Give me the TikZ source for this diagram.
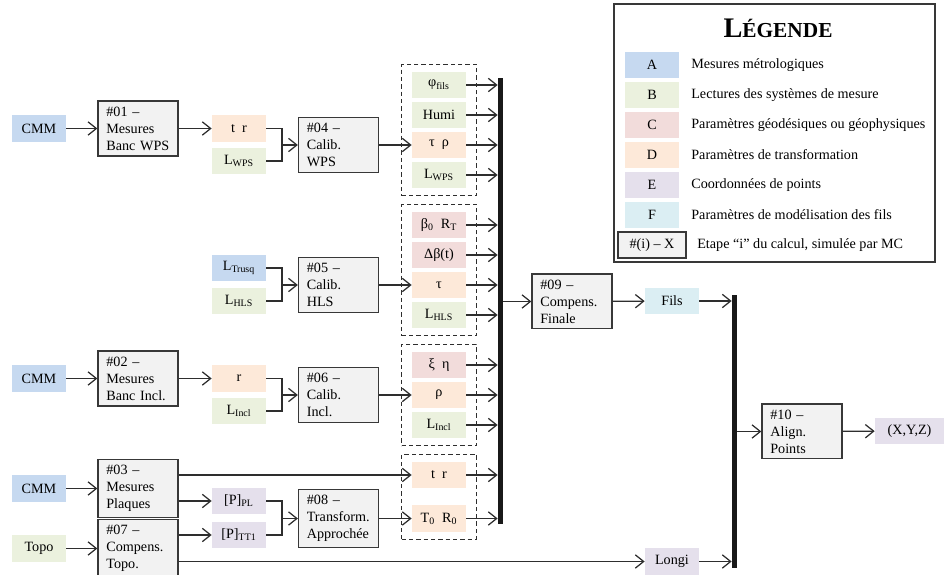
\documentclass[tikz,border=0pt]{standalone}
\usepackage{fontspec}
\setmainfont{Liberation Serif}
\usetikzlibrary{arrows.meta,fit}
\definecolor{colA}{HTML}{C6D9F0}
\definecolor{colB}{HTML}{EBF1DE}
\definecolor{colC}{HTML}{F2DCDB}
\definecolor{colD}{HTML}{FDE9D9}
\definecolor{colE}{HTML}{E5E0EC}
\definecolor{colF}{HTML}{DBEEF3}
\definecolor{edge}{HTML}{2E2E2E}
\newcommand\dgfont{\fontsize{8.5}{10.2}\selectfont}

\begin{document}
\begin{tikzpicture}[
    x=0.6pt, y=-0.6pt,
    proc/.style={draw=black!78, fill=black!5, line width=0.8pt, minimum width=48pt, minimum height=31.8pt, text width=38pt, inner xsep=5pt, align=left, font=\dgfont},
    keybox/.style={draw=black!78, fill=black!5, line width=0.8pt, minimum width=40.8pt, minimum height=15.6pt, inner sep=0pt, font=\dgfont},
    var/.style={minimum width=32.4pt, minimum height=16pt, inner sep=0pt, font=\dgfont},
    grp/.style={draw=edge, dash pattern=on 2.6pt off 1.8pt, line width=0.7pt, inner xsep=6pt, inner ysep=4.2pt},
    bus/.style={fill=black!90, inner sep=0pt, minimum width=3pt},
    arr/.style={-{Straight Barb[length=5pt,width=8pt]}, line width=0.75pt, draw=edge},
    lnk/.style={line width=0.75pt, draw=edge},
    legtxt/.style={anchor=west, font=\dgfont, inner sep=0pt}
]
    \useasboundingbox (0,0) rectangle (944,575);

    \node[var, fill=colA] (cmm1) at (39,128.5) {CMM};
    \node[proc] (mes01) at (138,128.5) {\#01 –\\Mesures\\Banc WPS};
    \node[var, fill=colD] (tr1) at (239,128.5) {t\enspace r};
    \node[var, fill=colB] (lwps1) at (239,161) {L\textsubscript{WPS}};
    \node[proc] (cal04) at (338.5,145) {\#04 –\\Calib.\\WPS};
    \coordinate (j04) at (282,145);
    \node[var, fill=colB] (phi) at (439,85) {φ\textsubscript{fils}};
    \node[var, fill=colB] (humi) at (439,115) {Humi};
    \node[var, fill=colD] (taurho) at (439,145) {τ\enspace ρ};
    \node[var, fill=colB] (lwps2) at (439,175) {L\textsubscript{WPS}};
    \node[grp, fit=(phi)(lwps2)] (grp1) {};

    \node[var, fill=colA] (ltrusq) at (239,268) {L\textsubscript{Trusq}};
    \node[var, fill=colB] (lhls1) at (239,301) {L\textsubscript{HLS}};
    \node[proc] (cal05) at (338.5,285) {\#05 –\\Calib.\\HLS};
    \coordinate (j05) at (282,285);
    \node[var, fill=colC] (beta) at (439,225) {β\textsubscript{0}\enspace R\textsubscript{T}};
    \node[var, fill=colC] (dbeta) at (439,255) {Δβ(t)};
    \node[var, fill=colD] (tau) at (439,285) {τ};
    \node[var, fill=colB] (lhls2) at (439,315) {L\textsubscript{HLS}};
    \node[grp, fit=(beta)(lhls2)] (grp2) {};

    \node[var, fill=colA] (cmm2) at (39,378.5) {CMM};
    \node[proc] (mes02) at (138,378.5) {\#02 –\\Mesures\\Banc Incl.};
    \node[var, fill=colD] (r1) at (239,378.5) {r};
    \node[var, fill=colB] (lincl1) at (239,411) {L\textsubscript{Incl}};
    \node[proc] (cal06) at (338.5,395) {\#06 –\\Calib.\\Incl.};
    \coordinate (j06) at (282,395);
    \node[var, fill=colC] (xieta) at (439,365) {ξ\enspace η};
    \node[var, fill=colD] (rho) at (439,395) {ρ};
    \node[var, fill=colB] (lincl2) at (439,425) {L\textsubscript{Incl}};
    \node[grp, fit=(xieta)(lincl2)] (grp3) {};

    \node[var, fill=colA] (cmm3) at (39,488.5) {CMM};
    \node[proc] (mes03) at (138,488.5) {\#03 –\\Mesures\\Plaques};
    \node[var, fill=colB] (topo) at (39,548.5) {Topo};
    \node[proc] (cmp07) at (138,548.5) {\#07 –\\Compens.\\Topo.};
    \node[var, fill=colE] (ppl) at (239,501) {[P]\textsubscript{PL}};
    \node[var, fill=colE] (ptt1) at (239,535) {[P]\textsubscript{TT1}};
    \node[proc] (tra08) at (338.5,518.5) {\#08 –\\Transform.\\Approchée};
    \coordinate (j08) at (282,518.5);
    \node[var, fill=colD] (tr2) at (439,475) {t\enspace r};
    \node[var, fill=colD] (t0r0) at (439,518.5) {T\textsubscript{0}\enspace R\textsubscript{0}};
    \node[grp, fit=(tr2)(t0r0)] (grp4) {};

    \node[bus, minimum height=267.6pt] (bus1) at (500.5,301) {};
    \node[proc] (cmp09) at (572,301.5) {\#09 –\\Compens.\\Finale};
    \node[var, fill=colF] (fils) at (672,301) {Fils};
    \node[var, fill=colE] (longi) at (672,561.5) {Longi};
    \node[bus, minimum height=163.8pt] (bus2) at (734.5,431.5) {};
    \node[proc] (ali10) at (802,431.5) {\#10 –\\Align.\\Points};
    \node[var, fill=colE, minimum width=41.4pt] (xyz) at (909.5,431) {(X,Y,Z)};

    \draw[arr] (cmm1) -- (mes01);
    \draw[arr] (mes01) -- (tr1);
    \draw[lnk] (tr1) -| (j04);
    \draw[lnk] (lwps1) -| (j04);
    \draw[arr] (j04) -- (cal04);
    \draw[arr] (cal04) -- (taurho);
    \draw[lnk] (ltrusq) -| (j05);
    \draw[lnk] (lhls1) -| (j05);
    \draw[arr] (j05) -- (cal05);
    \draw[arr] (cal05) -- (tau);
    \draw[arr] (cmm2) -- (mes02);
    \draw[arr] (mes02) -- (r1);
    \draw[lnk] (r1) -| (j06);
    \draw[lnk] (lincl1) -| (j06);
    \draw[arr] (j06) -- (cal06);
    \draw[arr] (cal06) -- (rho);
    \draw[arr] (cmm3) -- (mes03);
    \draw[arr] (topo) -- (cmp07);
    \draw[arr] (mes03.east |- tr2) -- (tr2);
    \draw[arr] (mes03.east |- ppl) -- (ppl);
    \draw[arr] (cmp07.east |- ptt1) -- (ptt1);
    \draw[arr] (cmp07.east |- longi) -- (longi);
    \draw[lnk] (ppl) -| (j08);
    \draw[lnk] (ptt1) -| (j08);
    \draw[arr] (j08) -- (tra08);
    \draw[arr] (tra08) -- (t0r0);
    \foreach \v in {phi,humi,taurho,lwps2,beta,dbeta,tau,lhls2,xieta,rho,lincl2,tr2,t0r0}
        \draw[arr] (\v.east) -- (\v.east -| bus1.west);
    \draw[arr] (bus1.east |- cmp09) -- (cmp09);
    \draw[arr] (cmp09) -- (fils);
    \draw[arr] (fils) -- (fils -| bus2.west);
    \draw[arr] (longi) -- (longi -| bus2.west);
    \draw[arr] (bus2.east |- ali10) -- (ali10);
    \draw[arr] (ali10) -- (xyz);

    \draw[draw=black!78, line width=0.8pt] (614,4) rectangle (935,262);
    \node[font=\bfseries] (legtitle) at (778,28) {\fontsize{17}{17}\selectfont L\fontsize{12.8}{12.8}\selectfont ÉGENDE};
    \foreach \k/\y/\t in {A/65/Mesures métrologiques, B/95/Lectures des systèmes de mesure, C/125/Paramètres géodésiques ou géophysiques, D/155/Paramètres de transformation, E/185/Coordonnées de points, F/215/Paramètres de modélisation des fils} {
        \node[var, fill=col\k] (sw\k) at (652,\y) {\k};
        \node[legtxt] (lg\k) at (691,\y) {\t};
    }
    \node[keybox] (keyX) at (652,245) {\#(i) – X};
    \node[legtxt] (keytxt) at (697,245) {Etape “i” du calcul, simulée par MC};
\end{tikzpicture}
\end{document}
